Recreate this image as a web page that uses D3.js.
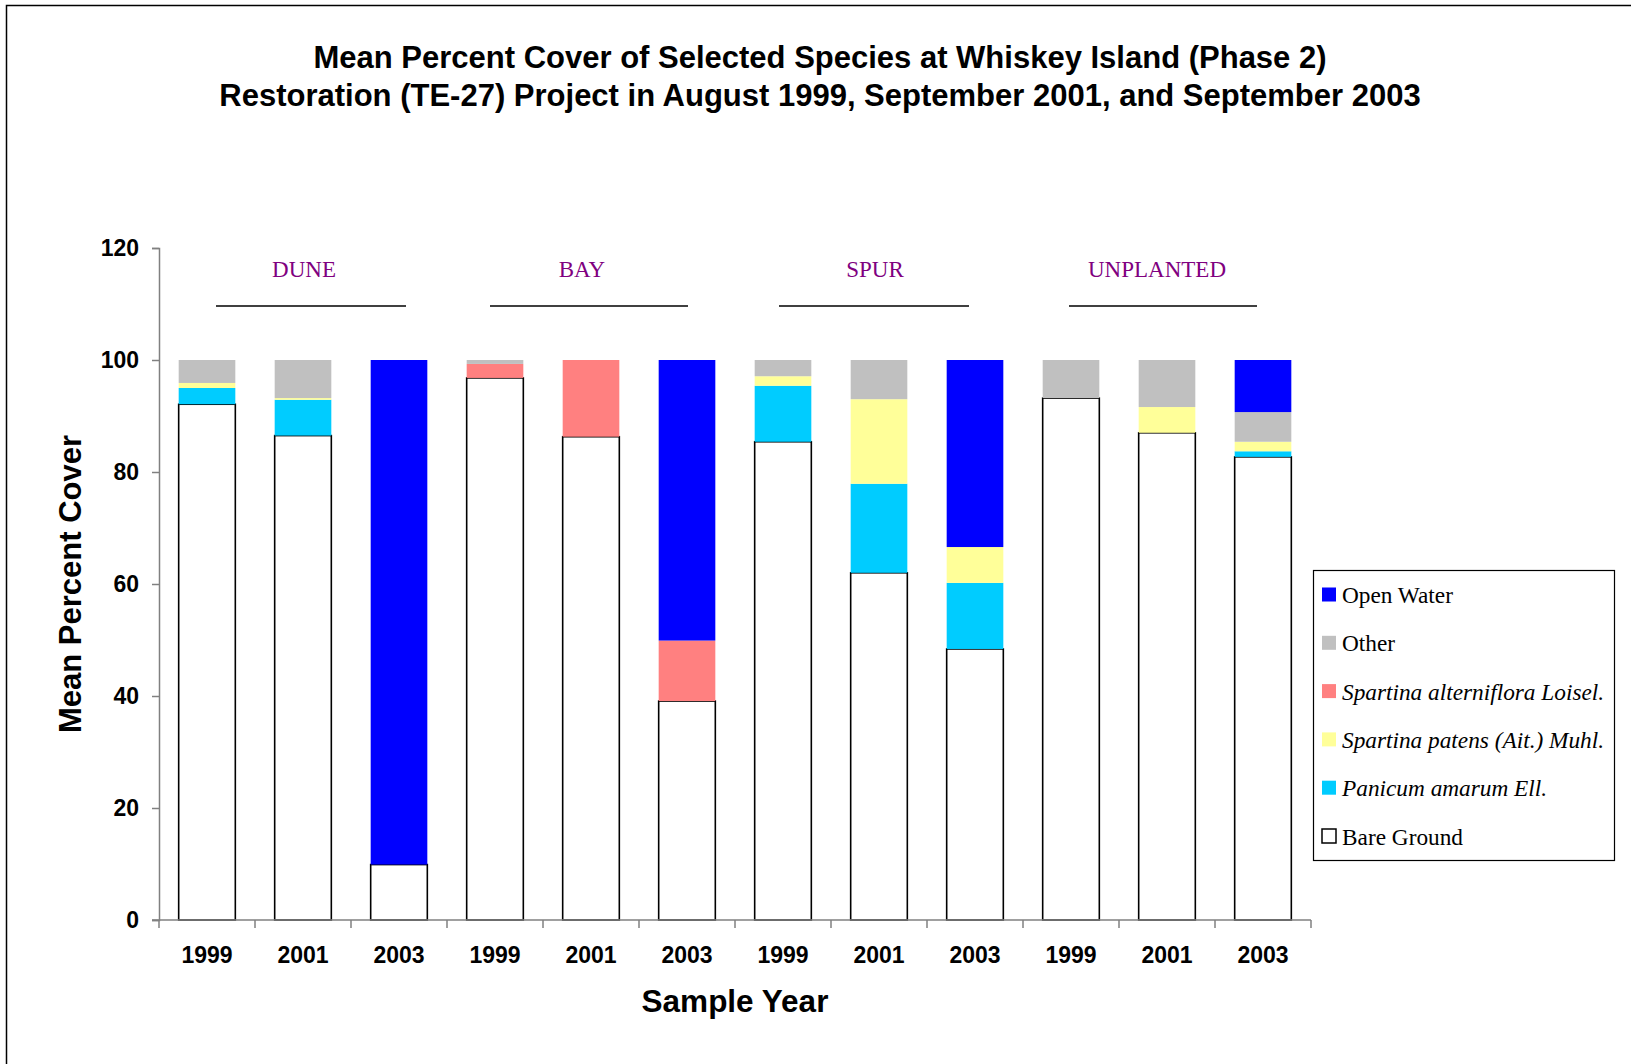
<!DOCTYPE html>
<html>
<head>
<meta charset="utf-8">
<script src="https://cdn.jsdelivr.net/npm/d3@7/dist/d3.min.js"></script>
<style>
  html, body { margin: 0; padding: 0; background: #fff; }
  svg { display: block; }
</style>
</head>
<body>
<svg id="chart" width="1631" height="1064"></svg>
<script>
// Sampling sites and survey years (one bar each)
const groups = ["DUNE", "BAY", "SPUR", "UNPLANTED"];
const years = ["1999", "2001", "2003"];

// Mean percent cover per bar, in bar order (DUNE 1999 ... UNPLANTED 2003)
const bareGround   = [92.1, 86.5,  9.9, 96.8, 86.3, 39.1, 85.4, 62.0, 48.4, 93.2, 87.0, 82.7];
const panicum      = [ 2.9,  6.4,  0.0,  0.0,  0.0,  0.0, 10.0, 15.9, 11.8,  0.0,  0.0,  1.0];
const patens       = [ 0.9,  0.3,  0.0,  0.0,  0.0,  0.0,  1.7, 15.1,  6.4,  0.0,  4.6,  1.7];
const alterniflora = [ 0.0,  0.0,  0.0,  2.5, 13.7, 10.8,  0.0,  0.0,  0.0,  0.0,  0.0,  0.0];
const other        = [ 4.1,  6.8,  0.0,  0.7,  0.0,  0.0,  2.9,  7.0,  0.0,  6.8,  8.4,  5.3];
const openWater    = [ 0.0,  0.0, 90.1,  0.0,  0.0, 50.1,  0.0,  0.0, 33.4,  0.0,  0.0,  9.3];

const yTicks = [0, 20, 40, 60, 80, 100, 120];

// Stack order, bottom to top
const series = [
  { key: "bare",  name: "Bare Ground", values: bareGround,   fill: "#ffffff", italic: false },
  { key: "pan",   name: "Panicum amarum Ell.", values: panicum, fill: "#00ccff", italic: true },
  { key: "pat",   name: "Spartina patens (Ait.) Muhl.", values: patens, fill: "#ffff99", italic: true },
  { key: "alt",   name: "Spartina alterniflora Loisel.", values: alterniflora, fill: "#ff8080", italic: true },
  { key: "oth",   name: "Other", values: other, fill: "#c0c0c0", italic: false },
  { key: "water", name: "Open Water", values: openWater, fill: "#0000ff", italic: false }
];

const bars = [];
groups.forEach((g, gi) => years.forEach((y, yi) => {
  const i = gi * years.length + yi;
  const row = { id: g + "-" + y, group: g, year: y };
  series.forEach(s => { row[s.key] = s.values[i]; });
  bars.push(row);
}));

const svg = d3.select("#chart");
const sans = "'Liberation Sans', Arial, sans-serif";
const serif = "'Liberation Serif', 'Times New Roman', serif";

// Outer frame
svg.append("rect")
  .attr("x", 6.5).attr("y", 5.5).attr("width", 1700).attr("height", 1100)
  .attr("fill", "none").attr("stroke", "#000").attr("stroke-width", 1.5);

const plot = { left: 159, right: 1311, top: 248, bottom: 920 };

const x = d3.scaleBand()
  .domain(bars.map(d => d.id))
  .range([plot.left, plot.right])
  .paddingInner(0.41)
  .paddingOuter(0.205);

const y = d3.scaleLinear().domain([0, 120]).range([plot.bottom, plot.top]);

const stack = d3.stack().keys(series.map(s => s.key));
const layers = stack(bars);

// Stacked bars
const layerG = svg.append("g").selectAll("g")
  .data(layers)
  .join("g")
  .attr("fill", (d, i) => series[i].fill);

layerG.each(function(layer, li) {
  const s = series[li];
  d3.select(this).selectAll("rect")
    .data(layer.filter(d => d[1] - d[0] > 0))
    .join("rect")
    .attr("x", d => x(d.data.id))
    .attr("width", x.bandwidth())
    .attr("y", d => y(d[1]))
    .attr("height", d => y(d[0]) - y(d[1]))
    .attr("stroke", s.key === "bare" ? "#000" : "none")
    .attr("stroke-width", s.key === "bare" ? 1.6 : 0);
});

// Y axis
const yAxis = d3.axisLeft(y).tickValues(yTicks).tickSize(7).tickPadding(13);
const yg = svg.append("g").attr("transform", `translate(${plot.left},0)`).call(yAxis);
yg.select(".domain").attr("stroke", "#808080").attr("stroke-width", 1.5);
yg.selectAll(".tick line").attr("stroke", "#808080").attr("stroke-width", 1.5);
yg.selectAll(".tick text")
  .attr("font-family", sans).attr("font-weight", "bold").attr("font-size", 23).attr("fill", "#000");

// X axis: ticks sit between bars
const xg = svg.append("g").attr("transform", `translate(0,${plot.bottom})`);
xg.append("line")
  .attr("x1", plot.left - 7).attr("x2", plot.right)
  .attr("stroke", "#808080").attr("stroke-width", 1.5);
const step = x.step();
const boundaries = d3.range(bars.length + 1).map(i => plot.left + i * step);
xg.selectAll("line.tk").data(boundaries).join("line")
  .attr("class", "tk")
  .attr("x1", d => d).attr("x2", d => d)
  .attr("y1", 0).attr("y2", 8)
  .attr("stroke", "#808080").attr("stroke-width", 1.5);
xg.selectAll("text").data(bars).join("text")
  .attr("x", d => x(d.id) + x.bandwidth() / 2)
  .attr("y", 43)
  .attr("text-anchor", "middle")
  .attr("font-family", sans).attr("font-weight", "bold").attr("font-size", 23)
  .text(d => d.year);

// Site labels with rules above the bars (small hand-set nudges per site)
const labelShift = [1, -9, -4, -10];
const ruleShift = [8, -2, -5, -4];
const ruleHalf = [95, 99, 95, 94];
groups.forEach((g, gi) => {
  const first = x(bars[gi * 3].id) - (step - x.bandwidth()) / 2;
  const cx = first + step * 1.5;
  svg.append("text")
    .attr("x", cx + labelShift[gi]).attr("y", 277)
    .attr("text-anchor", "middle")
    .attr("font-family", serif).attr("font-size", 23).attr("fill", "#800080")
    .text(g);
  svg.append("line")
    .attr("x1", cx + ruleShift[gi] - ruleHalf[gi]).attr("x2", cx + ruleShift[gi] + ruleHalf[gi])
    .attr("y1", 306).attr("y2", 306)
    .attr("stroke", "#000").attr("stroke-width", 1.6);
});

// Titles
const title = svg.append("text")
  .attr("text-anchor", "middle")
  .attr("font-family", sans).attr("font-weight", "bold").attr("font-size", 31);
title.append("tspan").attr("x", 820).attr("y", 68)
  .text("Mean Percent Cover of Selected Species at Whiskey Island (Phase 2)");
title.append("tspan").attr("x", 820).attr("y", 106)
  .text("Restoration (TE-27) Project in August 1999, September 2001, and September 2003");

svg.append("text")
  .attr("transform", `translate(81,${(plot.top + plot.bottom) / 2}) rotate(-90)`)
  .attr("text-anchor", "middle")
  .attr("font-family", sans).attr("font-weight", "bold").attr("font-size", 31)
  .text("Mean Percent Cover");

svg.append("text")
  .attr("x", (plot.left + plot.right) / 2).attr("y", 1012)
  .attr("text-anchor", "middle")
  .attr("font-family", sans).attr("font-weight", "bold").attr("font-size", 31.5)
  .text("Sample Year");

// Legend (top entry is the top of the stack)
const legend = svg.append("g");
legend.append("rect")
  .attr("x", 1313.5).attr("y", 570.5).attr("width", 301).attr("height", 290)
  .attr("fill", "#fff").attr("stroke", "#000").attr("stroke-width", 1.2);
const legendItems = series.slice().reverse();
const li = legend.selectAll("g.item").data(legendItems).join("g")
  .attr("class", "item")
  .attr("transform", (d, i) => `translate(1322,${595 + i * 48.3})`);
li.append("rect")
  .attr("x", 0).attr("y", -7.5).attr("width", 14).attr("height", 14)
  .attr("fill", d => d.fill)
  .attr("stroke", d => d.key === "bare" ? "#000" : "none")
  .attr("stroke-width", 1.5);
li.append("text")
  .attr("x", 20).attr("y", 0).attr("dy", "0.35em")
  .attr("font-family", serif).attr("font-size", 23.3)
  .attr("font-style", d => d.italic ? "italic" : "normal")
  .text(d => d.name);
</script>
</body>
</html>
